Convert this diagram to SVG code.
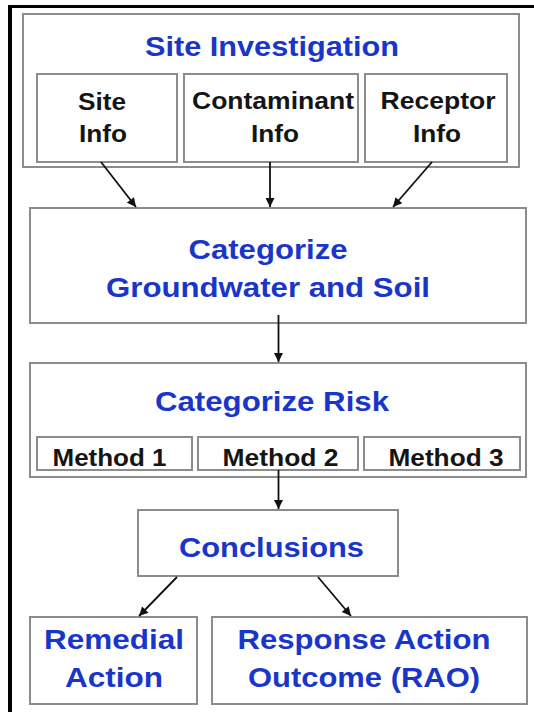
<svg xmlns="http://www.w3.org/2000/svg" width="534" height="712" viewBox="0 0 534 712">
<defs>
<style>
.box{fill:#ffffff;stroke:#8c8c8c;stroke-width:2}
.t{font-family:"Liberation Sans",Arial,sans-serif;font-weight:bold;text-anchor:middle}
.blue{fill:#1a36c9;font-size:28px}
.blk{fill:#151515;font-size:24.5px}
.conn{stroke:#111111;stroke-width:1.8;fill:none;marker-end:url(#ah)}
</style>
<marker id="ah" viewBox="0 0 10 10" refX="10" refY="5" markerWidth="11" markerHeight="9" markerUnits="userSpaceOnUse" orient="auto">
<path d="M0,0 L10,5 L0,10 z" fill="#111111"/>
</marker>
</defs>
<rect x="0" y="0" width="534" height="712" fill="#ffffff"/>
<g id="frame">
<line x1="8" y1="6.5" x2="534" y2="6.5" stroke="#000" stroke-width="3"/>
<line x1="10" y1="5" x2="10" y2="712" stroke="#000" stroke-width="4"/>
</g>
<g id="site-investigation">
<rect class="box" x="23" y="14" width="496" height="153"/>
<text class="t blue" x="272" y="56" textLength="254" lengthAdjust="spacingAndGlyphs">Site Investigation</text>
</g>
<g id="site-info">
<rect class="box" x="37" y="74" width="140" height="88"/>
<text class="t blk" x="102" y="110" textLength="48" lengthAdjust="spacingAndGlyphs">Site</text>
<text class="t blk" x="103" y="142" textLength="48" lengthAdjust="spacingAndGlyphs">Info</text>
</g>
<g id="contaminant-info">
<rect class="box" x="184" y="74" width="174" height="88"/>
<text class="t blk" x="273" y="109" textLength="162" lengthAdjust="spacingAndGlyphs">Contaminant</text>
<text class="t blk" x="275" y="142" textLength="48" lengthAdjust="spacingAndGlyphs">Info</text>
</g>
<g id="receptor-info">
<rect class="box" x="365" y="74" width="142" height="88"/>
<text class="t blk" x="438" y="109" textLength="115" lengthAdjust="spacingAndGlyphs">Receptor</text>
<text class="t blk" x="437" y="142" textLength="48" lengthAdjust="spacingAndGlyphs">Info</text>
</g>
<g id="categorize-gw-soil">
<rect class="box" x="30" y="208" width="496" height="115"/>
<text class="t blue" x="268" y="259" textLength="159" lengthAdjust="spacingAndGlyphs">Categorize</text>
<text class="t blue" x="268" y="297" textLength="324" lengthAdjust="spacingAndGlyphs">Groundwater and Soil</text>
</g>
<g id="categorize-risk">
<rect class="box" x="30" y="363" width="496" height="114"/>
<text class="t blue" x="272" y="411" textLength="234" lengthAdjust="spacingAndGlyphs">Categorize Risk</text>
</g>
<g id="method-1">
<rect class="box" x="37" y="437" width="155" height="33"/>
<text class="t blk" x="109.5" y="466" textLength="114" lengthAdjust="spacingAndGlyphs">Method 1</text>
</g>
<g id="method-2">
<rect class="box" x="198" y="437" width="160" height="33"/>
<text class="t blk" x="280.5" y="466" textLength="116" lengthAdjust="spacingAndGlyphs">Method 2</text>
</g>
<g id="method-3">
<rect class="box" x="364" y="437" width="156" height="33"/>
<text class="t blk" x="446" y="466" textLength="115" lengthAdjust="spacingAndGlyphs">Method 3</text>
</g>
<g id="conclusions">
<rect class="box" x="138" y="510" width="260" height="66"/>
<text class="t blue" x="271.5" y="557" textLength="185" lengthAdjust="spacingAndGlyphs">Conclusions</text>
</g>
<g id="remedial-action">
<rect class="box" x="30" y="617" width="167" height="87"/>
<text class="t blue" x="114" y="649" textLength="140" lengthAdjust="spacingAndGlyphs">Remedial</text>
<text class="t blue" x="114" y="687" textLength="98" lengthAdjust="spacingAndGlyphs">Action</text>
</g>
<g id="rao">
<rect class="box" x="212" y="617" width="315" height="87"/>
<text class="t blue" x="364" y="649" textLength="253" lengthAdjust="spacingAndGlyphs">Response Action</text>
<text class="t blue" x="364" y="687" textLength="232" lengthAdjust="spacingAndGlyphs">Outcome (RAO)</text>
</g>
<g id="connectors">
<line class="conn" x1="101" y1="162" x2="136" y2="207"/>
<line class="conn" x1="270" y1="162" x2="270" y2="207"/>
<line class="conn" x1="432" y1="162" x2="393" y2="207"/>
<line class="conn" x1="278.5" y1="315" x2="278.5" y2="362"/>
<line class="conn" x1="278.5" y1="470" x2="278.5" y2="509"/>
<line class="conn" x1="177" y1="577" x2="139" y2="616"/>
<line class="conn" x1="318" y1="577" x2="351" y2="616"/>
</g>
</svg>
